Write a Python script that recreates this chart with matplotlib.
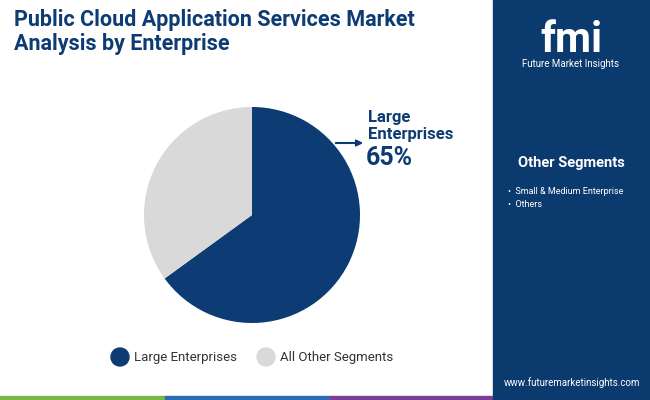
import matplotlib
matplotlib.use("Agg")
import matplotlib.pyplot as plt
import matplotlib.patches as mpatches

segments = ["Large Enterprises", "All Other Segments"]
shares = [65, 35]
colors = ["#0d3b73", "#d9d9d9"]
other_segments = ["Small & Medium Enterprise", "Others"]

NAVY = "#0d3b73"
W, H = 650, 400

fig = plt.figure(figsize=(6.5, 4), dpi=100)
fig.patch.set_facecolor("white")


def fx(x):
    return x / W


def fy(y):
    return 1 - y / H


# right panel
fig.add_artist(mpatches.Rectangle((fx(493), 0), fx(157), 1, transform=fig.transFigure,
                                  color="#0b3a6e", zorder=0))
# bottom strip
strip = [(0, 165, "#7ab648"), (165, 330, "#2e6db4"), (330, 493, "#7b3f98"), (493, 650, "#0b3a6e")]
for x0, x1, c in strip:
    fig.add_artist(mpatches.Rectangle((fx(x0), 0), fx(x1 - x0), 4 / H,
                                      transform=fig.transFigure, color=c, zorder=1))

fig.text(fx(14), fy(32), "Public Cloud Application Services Market\nAnalysis by Enterprise",
         fontsize=15.5, fontweight="bold", color=NAVY, va="center", ha="left",
         linespacing=1.1, family="Roboto")

# pie
r = 108
ax = fig.add_axes([fx(252 - r), fy(215 + r), fx(2 * r), 2 * r / H])
ax.pie(shares, colors=colors, startangle=90, counterclock=False,
       wedgeprops=dict(linewidth=0))
ax.set_xlim(-1, 1)
ax.set_ylim(-1, 1)
ax.set_aspect("equal")

# annotation
fig.add_artist(mpatches.FancyArrowPatch((fx(333), fy(143)), (fx(366), fy(143)),
                                        transform=fig.transFigure, arrowstyle="-|>",
                                        mutation_scale=9, color=NAVY, lw=1.5))
fig.text(fx(368), fy(126), "Large\nEnterprises", fontsize=12, fontweight="bold",
         color=NAVY, va="center", ha="left", linespacing=1.1, family="Roboto")
fig.text(fx(366), fy(158), f"{shares[0]}%", fontsize=18, fontweight="bold",
         color=NAVY, va="center", ha="left", family="Roboto")

# legend
lx = [(120, segments[0], colors[0]), (266, segments[1], colors[1])]
for x, lab, c in lx:
    fig.add_artist(mpatches.Ellipse((fx(x), fy(357)), fx(18), 18 / H,
                                    transform=fig.transFigure, color=c))
    fig.text(fx(x + 14), fy(357), lab, fontsize=9.5, color="#333333",
             va="center", ha="left", family="Roboto")

# right panel text
fig.text(fx(571), fy(40), "fmi", fontsize=30, fontweight="bold", color="white",
         ha="center", va="center", family="Roboto")
fig.text(fx(571), fy(64), "Future Market Insights", fontsize=7, color="white",
         ha="center", va="center", family="Roboto")
fig.text(fx(571), fy(163), "Other Segments", fontsize=10.5, fontweight="bold",
         color="white", ha="center", va="center", family="Roboto")
for i, s in enumerate(other_segments):
    fig.text(fx(508), fy(191 + i * 14), "•  " + s, fontsize=6.5, color="white",
             ha="left", va="center", family="Roboto")
fig.text(fx(572), fy(383), "www.futuremarketinsights.com", fontsize=7, color="white",
         ha="center", va="center", family="Roboto")

fig.savefig("out.png", dpi=100)
